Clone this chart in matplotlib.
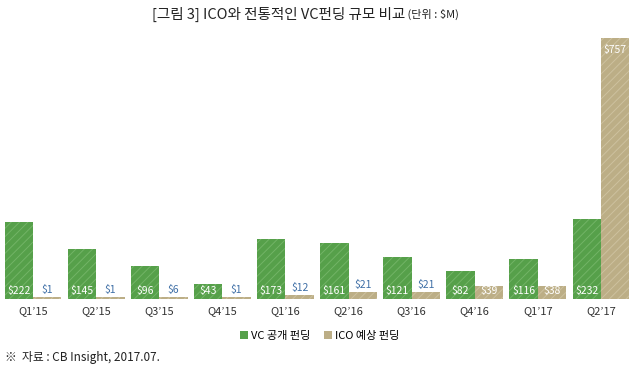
import numpy as np
import matplotlib
matplotlib.use('Agg')
import matplotlib.pyplot as plt
from matplotlib.patches import Patch

plt.rcParams['font.family'] = ['Noto Sans CJK KR', 'DejaVu Sans']
plt.rcParams['hatch.linewidth'] = 0.7

# 데이터
quarters = ["Q1’15", "Q2’15", "Q3’15", "Q4’15", "Q1’16",
            "Q2’16", "Q3’16", "Q4’16", "Q1’17", "Q2’17"]
vc_funding = [222, 145, 96, 43, 173, 161, 121, 82, 116, 232]
ico_funding = [1, 1, 6, 1, 12, 21, 21, 39, 38, 757]

green = '#56a04a'
green_hatch = '#72b466'
tan = '#bcae86'
tan_hatch = '#cdc19f'
blue = '#3f6fa6'

fig = plt.figure(figsize=(6.33, 3.71), dpi=100)
ax = fig.add_axes([4.6 / 633, 1 - 299 / 371, 624.8 / 633, 261 / 371])

x = np.arange(len(quarters))
w = 0.45
px = max(ico_funding) / 261.0  # 값 per pixel
# 아주 작은 값도 보이도록 최소 높이 적용
ico_draw = np.maximum(ico_funding, 2.5 * px)

ax.bar(x - w / 2, vc_funding, w, color=green, edgecolor=green_hatch,
       hatch='////', linewidth=0)
ax.bar(x + w / 2, ico_draw, w, color=tan, edgecolor=tan_hatch,
       hatch='////', linewidth=0)

ax.set_xlim(-w, len(quarters) - 1 + w)
ax.set_ylim(0, max(ico_funding))

for i, v in enumerate(vc_funding):
    ax.text(x[i] - w / 2, 8 * px, '$%d' % v, color='white', fontsize=7.5,
            ha='center', va='center')
for i, v in enumerate(ico_funding):
    if v < 30:
        ax.text(x[i] + w / 2, max(ico_draw[i] + 7 * px, 8 * px), '$%d' % v,
                color=blue, fontsize=7.5, ha='center', va='center')
    elif v > 500:
        ax.text(x[i] + w / 2, v - 12 * px, '$%d' % v, color='white',
                fontsize=7.5, ha='center', va='center')
    else:
        ax.text(x[i] + w / 2, 8 * px, '$%d' % v, color='white', fontsize=7.5,
                ha='center', va='center')

ax.set_xticks(x)
ax.set_xticklabels(quarters, fontsize=8, color='#333333')
ax.tick_params(axis='x', length=0, pad=5)
ax.set_yticks([])
for s in ax.spines.values():
    s.set_visible(False)

fig.text(405 / 633, 1 - 14 / 371, '[그림 3] ICO와 전통적인 VC펀딩 규모 비교', fontsize=10.5,
         ha='right', va='center', color='#222222')
fig.text(405 / 633, 1 - 14 / 371, ' (단위 : $M)', fontsize=8, ha='left', va='center',
         color='#222222')

handles = [Patch(facecolor=green, label='VC 공개 펀딩'),
           Patch(facecolor=tan, label='ICO 예상 펀딩')]
fig.legend(handles=handles, loc='center', bbox_to_anchor=(0.505, 1 - 336 / 371),
           ncol=2, frameon=False, fontsize=8, handlelength=0.7, handleheight=0.7,
           handletextpad=0.3, columnspacing=1.2)

fig.text(5 / 633, 1 - 357 / 371, '※  자료 : CB Insight, 2017.07.', fontsize=8.5,
         ha='left', va='center', color='#222222')

fig.savefig('out.png', dpi=100)
